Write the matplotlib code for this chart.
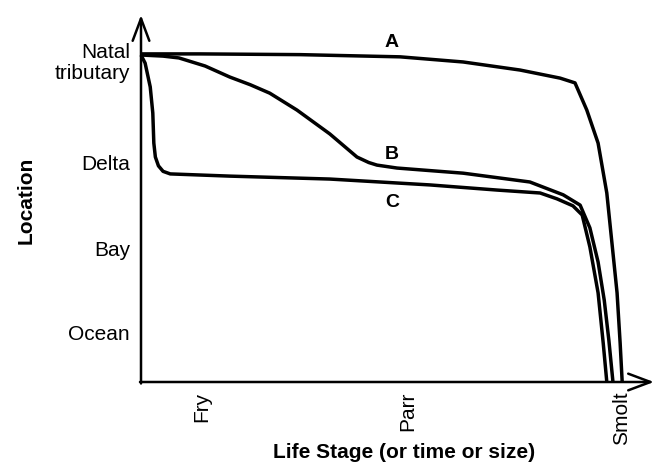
import matplotlib
matplotlib.use('Agg')
import matplotlib.pyplot as plt

# curves (x: life stage 0-100, y: location 0-100)
a_x = [0, 11.5, 31.0, 50.5, 62.8, 73.9, 81.7, 84.6, 86.9, 89.1, 90.8, 91.8, 92.8, 93.4, 93.8]
a_y = [89.4, 89.4, 89.2, 88.6, 87.2, 85.0, 82.8, 81.5, 74.1, 65.1, 51.5, 37.9, 24.3, 10.6, 0]

b_x = [0, 4.3, 7.4, 12.5, 17.3, 21.3, 25.1, 30.4, 36.8, 42.1, 44.4, 46.0, 49.9, 62.8, 75.8, 82.3, 85.6, 87.5, 89.1, 90.3, 91.2, 92.0]
b_y = [89.1, 88.8, 88.3, 86.1, 83.1, 81.0, 78.7, 74.1, 67.6, 61.3, 59.8, 59.1, 58.3, 56.9, 54.5, 51.0, 48.2, 42.0, 32.7, 22.3, 11.4, 0]

c_x = [0, 0.8, 1.8, 2.3, 2.5, 2.8, 3.4, 4.3, 5.7, 17.3, 36.8, 56.3, 69.4, 77.8, 81.1, 84.2, 86.0, 87.5, 89.1, 90.1, 90.8]
c_y = [89.1, 86.9, 80.4, 73.3, 65.1, 61.3, 58.9, 57.4, 56.7, 56.1, 55.3, 53.7, 52.3, 51.5, 49.9, 48.0, 45.5, 36.8, 24.3, 10.6, 0]

stage_ticks = [11.9, 52.0, 93.6]
stage_labels = ['Fry', 'Parr', 'Smolt']
location_ticks = [87.7, 59.9, 36.5, 13.5]
location_labels = ['Natal\ntributary', 'Delta', 'Bay', 'Ocean']

plt.rcParams['font.family'] = ['Liberation Sans', 'DejaVu Sans']

fig = plt.figure(figsize=(6.54, 4.70), dpi=100)
ax = fig.add_axes([141 / 654, 88 / 470, 513 / 654, 367 / 470])

for xs, ys in [(a_x, a_y), (b_x, b_y), (c_x, c_y)]:
    ax.plot(xs, ys, color='black', lw=2.5, solid_joinstyle='round', solid_capstyle='butt', clip_on=False)

ax.text(48.9, 92.4, 'A', fontsize=14, fontweight='bold', ha='center', va='center')
ax.text(48.9, 61.9, 'B', fontsize=14, fontweight='bold', ha='center', va='center')
ax.text(48.9, 49.0, 'C', fontsize=14, fontweight='bold', ha='center', va='center')

ax.set_xlim(0, 100)
ax.set_ylim(0, 100)

for side in ['top', 'right', 'left', 'bottom']:
    ax.spines[side].set_visible(False)

# axes drawn as arrows
arrow = dict(arrowstyle='->,head_length=1.6,head_width=0.6', lw=1.8, color='black',
             shrinkA=0, shrinkB=0, mutation_scale=10)
ax.annotate('', xy=(0, 1), xytext=(0, -0.004), xycoords='axes fraction', arrowprops=arrow)
ax.annotate('', xy=(1, 0), xytext=(-0.002, 0), xycoords='axes fraction', arrowprops=arrow)

ax.set_xticks(stage_ticks)
ax.set_xticklabels(stage_labels, rotation=90, fontsize=15)
ax.set_yticks(location_ticks)
ax.set_yticklabels(location_labels, fontsize=15, linespacing=1.1)
ax.tick_params(axis='both', length=0)
ax.tick_params(axis='x', pad=7)
ax.tick_params(axis='y', pad=8)

bold = dict(fontsize=15, fontweight='bold')
ax.set_xlabel('Life Stage (or time or size)', **bold)
ax.set_ylabel('Location', **bold)
ax.xaxis.set_label_coords(0.513, -0.166)
ax.yaxis.set_label_coords(-0.205, 0.496)

fig.savefig('out.png', dpi=100)
